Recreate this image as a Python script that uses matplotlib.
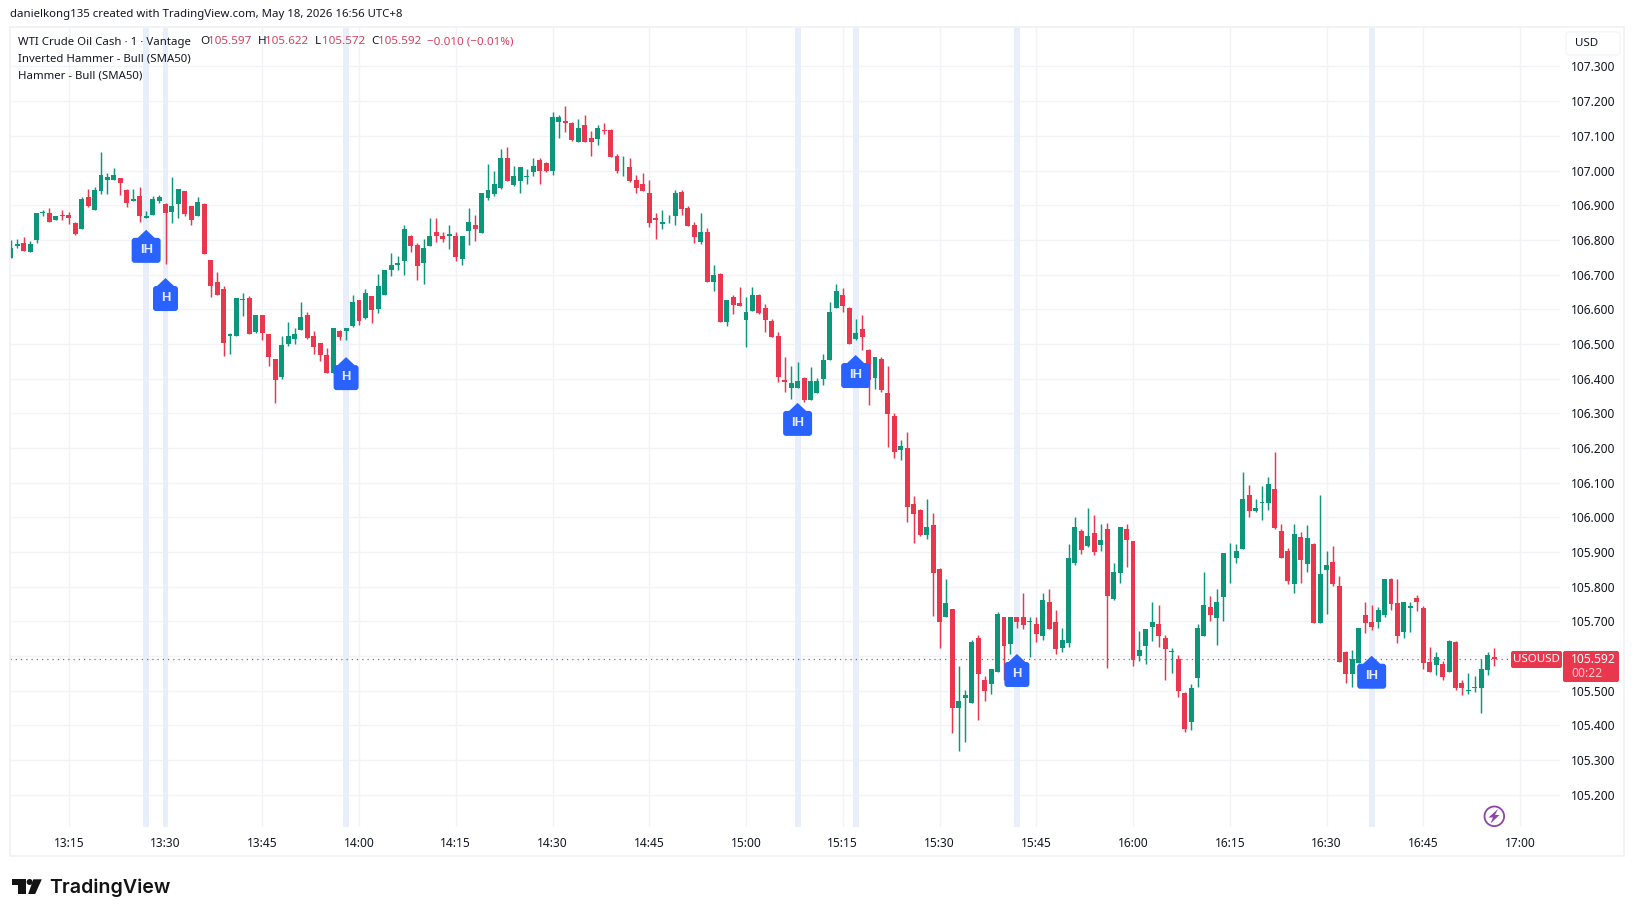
import matplotlib
matplotlib.use("Agg")
import matplotlib.pyplot as plt
import numpy as np
from matplotlib.path import Path
from matplotlib.patches import PathPatch, FancyBboxPatch, Polygon, Circle, Rectangle
from matplotlib.transforms import Affine2D, ScaledTranslation

opens = [
106.747,106.782,106.791,106.765,106.801,106.877,106.878,106.857,106.872,106.873,
106.849,106.831,106.925,106.885,106.942,106.972,106.972,106.979,106.945,106.911,
106.928,106.862,106.871,106.912,106.904,106.881,106.903,106.941,106.898,106.868,
106.904,106.742,106.679,106.659,106.522,106.522,106.626,106.633,106.533,106.583,
106.529,106.456,106.406,106.501,106.515,106.541,106.584,106.523,106.503,106.469,
106.415,106.537,106.536,106.551,106.627,106.576,106.638,106.602,106.640,106.714,
106.729,106.740,106.812,106.784,106.732,106.781,106.824,106.810,106.810,106.812,
106.746,106.827,106.844,106.821,106.922,106.931,106.951,107.035,106.957,106.971,
106.980,106.997,107.029,107.023,107.000,107.141,107.144,107.138,107.081,107.130,
107.095,107.092,107.118,107.118,107.043,107.012,107.009,106.974,106.962,106.934,
106.864,106.847,106.862,106.870,106.939,106.893,106.844,106.794,106.824,106.680,
106.703,106.562,106.634,106.619,106.570,106.596,106.642,106.605,106.565,106.524,
106.397,106.374,106.374,106.403,106.339,106.359,106.400,106.455,106.605,106.642,
106.605,106.515,106.544,106.483,106.403,106.457,106.359,106.293,106.195,106.201,
106.039,106.022,105.950,105.979,105.852,105.713,105.736,105.451,105.480,105.465,
105.653,105.531,105.520,105.555,105.713,105.635,105.713,105.713,105.699,105.693,
105.658,105.757,105.699,105.624,105.638,105.869,105.961,105.918,105.955,105.921,
105.967,105.765,105.840,105.967,105.932,105.601,105.630,105.685,105.693,105.653,
105.611,105.592,105.494,105.411,105.538,105.659,105.742,105.711,105.771,105.890,
105.884,105.910,106.063,106.018,106.041,106.040,106.083,105.962,105.904,105.809,
105.944,105.866,105.924,105.696,105.849,105.872,105.803,105.613,105.549,105.581,
105.717,105.699,105.699,105.719,105.823,105.754,105.670,105.740,105.766,105.740,
105.584,105.575,105.578,105.555,105.641,105.523,105.500,105.509,105.509,105.561,
105.597]
highs = [
106.799,106.804,106.808,106.798,106.878,106.885,106.892,106.870,106.885,106.881,
106.851,106.924,106.947,106.953,107.054,106.992,107.007,106.979,106.947,106.947,
106.953,106.884,106.926,106.929,106.905,106.981,106.948,106.942,106.899,106.924,
106.905,106.743,106.708,106.668,106.532,106.633,106.647,106.639,106.583,106.584,
106.530,106.457,106.524,106.564,106.545,106.621,106.591,106.537,106.504,106.488,
106.546,106.541,106.546,106.641,106.628,106.658,106.639,106.703,106.714,106.762,
106.755,106.844,106.813,106.791,106.803,106.864,106.864,106.824,106.844,106.822,
106.812,106.893,106.873,106.934,107.020,107.000,107.063,107.069,107.014,107.009,
107.003,107.035,107.037,107.024,107.170,107.159,107.185,107.139,107.150,107.159,
107.115,107.130,107.138,107.119,107.048,107.043,107.035,106.988,106.994,106.974,
106.879,106.885,106.873,106.945,106.945,106.899,106.853,106.879,106.833,106.729,
106.704,106.628,106.642,106.663,106.634,106.663,106.643,106.614,106.573,106.533,
106.463,106.437,106.449,106.404,106.434,106.403,106.472,106.622,106.674,106.662,
106.606,106.573,106.584,106.484,106.463,106.463,106.437,106.302,106.224,106.247,
106.062,106.023,106.054,106.013,105.853,105.823,105.737,105.572,105.503,105.647,
105.661,105.543,105.563,105.728,105.714,105.713,105.714,105.782,105.713,105.713,
105.782,105.794,105.733,105.682,105.924,106.002,105.967,106.028,106.007,105.981,
105.984,105.869,105.973,105.981,105.933,105.673,105.679,105.757,105.748,105.662,
105.624,105.604,105.495,105.520,105.693,105.843,105.774,105.794,105.898,105.927,
105.924,106.132,106.094,106.054,106.089,106.115,106.187,105.982,105.913,105.982,
105.959,105.979,105.925,106.063,105.904,105.918,105.832,105.614,105.618,105.682,
105.757,105.748,105.742,105.823,105.824,105.823,105.757,105.757,105.777,105.745,
105.627,105.613,105.587,105.647,105.642,105.532,105.552,105.543,105.592,105.613,
105.622]
lows = [
106.747,106.777,106.767,106.764,106.791,106.870,106.851,106.857,106.858,106.846,
106.815,106.831,106.894,106.885,106.933,106.933,106.972,106.929,106.894,106.911,
106.851,106.862,106.871,106.906,106.730,106.849,106.862,106.870,106.842,106.868,
106.758,106.634,106.640,106.464,106.470,106.522,106.580,106.528,106.531,106.510,
106.435,106.330,106.399,106.493,106.499,106.541,106.514,106.471,106.450,106.415,
106.415,106.510,106.510,106.549,106.554,106.572,106.560,106.589,106.640,106.695,
106.712,106.700,106.764,106.683,106.674,106.781,106.793,106.793,106.775,106.738,
106.729,106.784,106.798,106.821,106.914,106.926,106.948,106.971,106.955,106.934,
106.962,106.983,106.962,106.995,106.988,107.095,107.110,107.084,107.081,107.081,
107.043,107.075,107.104,107.040,106.994,106.983,106.968,106.934,106.942,106.838,
106.804,106.830,106.850,106.844,106.873,106.841,106.792,106.789,106.680,106.654,
106.562,106.553,106.585,106.608,106.492,106.596,106.585,106.533,106.521,106.389,
106.362,106.342,106.372,106.333,106.339,106.359,106.382,106.455,106.605,106.593,
106.501,106.512,106.483,106.325,106.371,106.362,106.204,106.172,106.166,105.987,
105.927,105.947,105.938,105.716,105.624,105.713,105.379,105.327,105.353,105.465,
105.416,105.471,105.491,105.555,105.531,105.607,105.682,105.679,105.598,105.641,
105.647,105.679,105.607,105.612,105.627,105.863,105.895,105.915,105.892,105.904,
105.566,105.762,105.811,105.857,105.572,105.587,105.578,105.642,105.627,105.532,
105.552,105.483,105.382,105.388,105.512,105.659,105.702,105.633,105.702,105.812,
105.869,105.910,106.002,106.014,105.993,106.022,105.967,105.884,105.809,105.783,
105.812,105.843,105.696,105.696,105.722,105.803,105.584,105.523,105.512,105.581,
105.667,105.676,105.682,105.714,105.734,105.639,105.653,105.670,105.731,105.564,
105.555,105.546,105.532,105.555,105.503,105.489,105.491,105.497,105.437,105.546,
105.572]
closes = [
106.777,106.789,106.767,106.788,106.878,106.879,106.851,106.870,106.868,106.862,
106.816,106.919,106.897,106.944,106.988,106.982,106.988,106.965,106.905,106.919,
106.868,106.870,106.919,106.924,106.877,106.898,106.947,106.876,106.856,106.910,
106.760,106.666,106.640,106.502,106.530,106.633,106.628,106.528,106.583,106.531,
106.461,106.395,106.497,106.523,106.529,106.578,106.516,106.490,106.469,106.415,
106.546,106.520,106.545,106.621,106.565,106.647,106.597,106.668,106.714,106.728,
106.732,106.830,106.781,106.726,106.778,106.812,106.810,106.802,106.818,106.752,
106.812,106.853,106.830,106.934,106.945,106.960,107.037,106.971,106.983,107.009,
106.983,107.014,107.000,107.000,107.153,107.153,107.136,107.087,107.124,107.081,
107.081,107.124,107.113,107.040,107.000,107.014,106.971,106.951,106.942,106.850,
106.856,106.853,106.864,106.934,106.890,106.841,106.807,106.824,106.680,106.700,
106.562,106.628,106.611,106.609,106.593,106.642,106.590,106.570,106.521,106.406,
106.391,106.388,106.394,106.339,106.394,106.394,106.455,106.593,106.654,106.610,
106.501,106.532,106.521,106.397,106.463,106.368,106.299,106.189,106.207,106.031,
106.010,105.950,105.973,105.840,105.699,105.754,105.451,105.471,105.488,105.641,
105.549,105.500,105.563,105.722,105.630,105.713,105.699,105.690,105.702,105.664,
105.762,105.679,105.621,105.647,105.883,105.973,105.906,105.947,105.901,105.935,
105.774,105.843,105.973,105.935,105.589,105.618,105.679,105.699,105.659,105.621,
105.614,105.500,105.391,105.509,105.682,105.748,105.719,105.757,105.898,105.892,
105.904,106.054,106.017,106.028,106.043,106.097,105.970,105.884,105.815,105.953,
105.878,105.939,105.696,105.838,105.864,105.809,105.584,105.549,105.592,105.682,
105.696,105.685,105.734,105.823,105.751,105.659,105.757,105.745,105.757,105.581,
105.555,105.598,105.541,105.642,105.509,105.509,105.503,105.512,105.564,105.604,
105.592]

start_minute = 13 * 60 + 6          # first bar is 13:06
signal_minutes = [13*60+27, 13*60+30, 13*60+58, 15*60+8, 15*60+17, 15*60+42, 16*60+37]
signal_labels = ["IH", "H", "H", "IH", "IH", "H", "IH"]
signal_prices = [106.829, 106.690, 106.462, 106.330, 106.468, 105.606, 105.601]

price_ticks = [105.2,105.3,105.4,105.5,105.6,105.7,105.8,105.9,106.0,106.1,106.2,106.3,
               106.4,106.5,106.6,106.7,106.8,106.9,107.0,107.1,107.2,107.3]
time_ticks = ["13:15","13:30","13:45","14:00","14:15","14:30","14:45","15:00","15:15",
              "15:30","15:45","16:00","16:15","16:30","16:45","17:00"]
last_price = 105.592

GREEN = "#0C967A"
RED = "#E9384D"
LEGEND_RED = "#D5435E"
BLUE = "#2962FF"
INK = "#131722"
GRID = "#F2F3F7"
BAND = "#E9EEFB"
W, H = 1634, 917
FONT = "Noto Sans"
plt.rcParams["font.family"] = [FONT, "DejaVu Sans"]

def to_min(s):
    h, m = s.split(":")
    return int(h) * 60 + int(m)

fig = plt.figure(figsize=(W / 100, H / 100), dpi=100, facecolor="white")
L, R, T, B = 10, 1560, 27, 827
ax = fig.add_axes([L / W, 1 - B / H, (R - L) / W, (B - T) / H], zorder=1)
step, x0 = 6.45, 10.7
ax.set_xlim(start_minute + (L - x0) / step, start_minute + (R - x0) / step)
ax.set_ylim(107.3 - (B - 66.5) / 346.8, 107.3 + (66.5 - T) / 346.8)
for s in ax.spines.values():
    s.set_visible(False)

x = start_minute + np.arange(len(opens))
o, h, l, c = map(np.array, (opens, highs, lows, closes))
up = c >= o
cols = np.where(up, GREEN, RED)

ax.set_axisbelow(True)
ax.yaxis.tick_right()
ax.set_yticks(price_ticks)
ax.set_yticklabels([f"{p:.3f}" for p in price_ticks], fontsize=8.6, color=INK)
ax.set_xticks([to_min(t) for t in time_ticks])
ax.set_xticklabels(time_ticks, fontsize=8.6, color=INK)
for lab, t in zip(ax.get_xticklabels(), time_ticks):
    if t.endswith(":00"):
        lab.set_fontweight("bold")
ax.tick_params(axis="y", length=0, pad=8.2)
ax.tick_params(axis="x", length=0, pad=7.2)
ax.grid(True, color=GRID, lw=1.0)

for m in signal_minutes:
    ax.axvspan(m - 0.46, m + 0.46, color=BAND, lw=0, zorder=1)

ax.hlines(last_price, ax.get_xlim()[0], ax.get_xlim()[1], colors="#8a6a70", lw=0.9,
          linestyles=(0, (1, 3.2)), zorder=1.5)
ax.vlines(x, l, h, colors=cols, lw=1.05, zorder=2)
ax.bar(x, np.maximum(np.abs(c - o), 0.0025), bottom=np.minimum(o, c), width=0.76,
       color=cols, lw=0, zorder=3)

def signal_path(half_w):
    tip, shoulder, bottom, r, sx = 0, -8, -33, 3, 8.5
    verts = [(0, tip), (sx, shoulder), (half_w - r, shoulder), (half_w, shoulder), (half_w, shoulder - r),
             (half_w, bottom + r), (half_w, bottom), (half_w - r, bottom),
             (-half_w + r, bottom), (-half_w, bottom), (-half_w, bottom + r),
             (-half_w, shoulder - r), (-half_w, shoulder), (-half_w + r, shoulder),
             (-sx, shoulder), (0, tip)]
    codes = [Path.MOVETO, Path.LINETO, Path.LINETO, Path.CURVE3, Path.CURVE3,
             Path.LINETO, Path.CURVE3, Path.CURVE3,
             Path.LINETO, Path.CURVE3, Path.CURVE3,
             Path.LINETO, Path.CURVE3, Path.CURVE3,
             Path.LINETO, Path.CLOSEPOLY]
    return Path(verts, codes)

for m, lab, p in zip(signal_minutes, signal_labels, signal_prices):
    half = 14.5 if lab == "IH" else 12.5
    tr = Affine2D() + ScaledTranslation(m, p, ax.transData)
    ax.add_patch(PathPatch(signal_path(half), transform=tr, fc=BLUE, ec="none", zorder=5))
    ax.annotate(lab, (m, p), xytext=(0, -14.5), textcoords="offset points", ha="center", va="center",
                color="#E4ECFF", fontsize=9.4, fontweight="bold", zorder=6, family="Liberation Sans")

# chrome layer in pixel coordinates
ov = fig.add_axes([0, 0, 1, 1], zorder=2)
ov.set_xlim(0, W); ov.set_ylim(H, 0); ov.axis("off"); ov.patch.set_alpha(0)
ov.add_patch(Rectangle((10, 27), 1614, 829, fc="none", ec="#F0F2F6", lw=1.3))

ov.text(10, 15, "danielkong135 created with TradingView.com, May 18, 2026 16:56 UTC+8",
        fontsize=8.2, color=INK, va="center")
ov.text(18, 42, "WTI Crude Oil Cash · 1 · Vantage", fontsize=8.2, color=INK, va="center")
ov.text(18, 59, "Inverted Hammer - Bull (SMA50)", fontsize=8.2, color=INK, va="center")
ov.text(18, 76, "Hammer - Bull (SMA50)", fontsize=8.2, color=INK, va="center")
legend_bits = [(200, "O", INK), (208, "105.597", LEGEND_RED), (258, "H", INK), (265, "105.622", LEGEND_RED),
               (315, "L", INK), (322, "105.572", LEGEND_RED), (371, "C", INK), (378, "105.592", LEGEND_RED),
               (427, "−0.010 (−0.01%)", LEGEND_RED)]
for px, s, col in legend_bits:
    ov.text(px, 42, s, fontsize=8.4, color=col, va="center")

ov.add_patch(FancyBboxPatch((1566, 32), 54, 23, boxstyle="round,pad=0,rounding_size=3", fc="white",
                            ec="#F4F5F8", lw=1))
ov.text(1575, 44, "USD", fontsize=8.3, color=INK, va="center")

ov.add_patch(FancyBboxPatch((1511, 651), 51, 17, boxstyle="round,pad=0,rounding_size=2", fc=RED, ec="none"))
ov.text(1536.5, 659.5, "USOUSD", fontsize=8.3, color="white", ha="center", va="center")
ov.add_patch(FancyBboxPatch((1563, 651), 56, 31, boxstyle="round,pad=0,rounding_size=2", fc=RED, ec="none"))
ov.text(1571, 659.5, "105.592", fontsize=8.7, color="white", va="center", fontweight="medium")
ov.text(1571, 673.5, "00:22", fontsize=8.7, color="#FFC9CF", va="center")

ov.add_patch(Circle((1494.3, 816.3), 9.8, fc="white", ec="#8E44A8", lw=1.3))
ov.add_patch(Polygon([(1498, 809), (1488.5, 817.5), (1493, 817.5), (1490.5, 823.5),
                      (1499.5, 815), (1495, 815)], closed=True, fc="#8E44A8", ec="none"))

# TradingView logo
ov.add_patch(Polygon([(12, 879.3), (26, 879.3), (26, 894), (18, 894), (18, 885), (12, 885)], fc="#131313", ec="none"))
ov.add_patch(Circle((29.6, 882), 3, fc="#131313", ec="none"))
ov.add_patch(Polygon([(33.3, 879.3), (41.8, 879.3), (35.2, 894), (28.2, 894)], fc="#131313", ec="none"))
ov.text(49, 887.5, "TradingView", fontsize=14.1, color="#131313", va="center", fontweight="semibold", family="Inter")

fig.savefig("out.png", dpi=100, facecolor="white")
